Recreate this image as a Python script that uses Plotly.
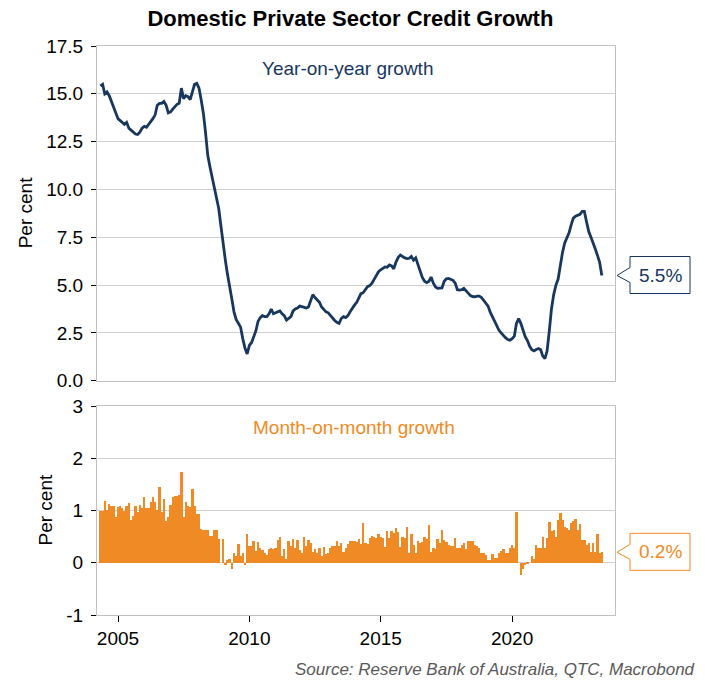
import plotly.graph_objects as go
import pandas as pd

# ---------------- data (monthly, from May 2004) ----------------
start_month = "2004-05-01"

yoy_growth = [
    15.42, 15.5, 15.0, 15.1, 14.9, 14.6, 14.3, 14.1,                      # 2004 May-Dec
    13.7, 13.6, 13.5, 13.4, 13.5, 13.2, 13.1, 13.0, 12.9, 12.87, 13.0, 13.2,  # 2005
    13.3, 13.25, 13.4, 13.5, 13.7, 13.9, 14.4, 14.5, 14.5, 14.6, 14.4, 14.0,  # 2006
    14.05, 14.2, 14.3, 14.45, 14.5, 15.3, 14.75, 14.9, 14.85, 14.7, 15.1, 15.5,  # 2007
    15.55, 15.3, 14.7, 14.0, 13.0, 11.8, 11.2, 10.6, 10.1, 9.6, 9.0, 8.1,   # 2008
    7.1, 6.3, 5.6, 5.0, 4.3, 3.6, 3.2, 3.0, 2.8, 2.2, 1.7, 1.4,             # 2009
    1.85, 2.0, 2.3, 2.6, 3.1, 3.3, 3.4, 3.35, 3.35, 3.5, 3.75, 3.5,         # 2010
    3.55, 3.6, 3.65, 3.5, 3.4, 3.17, 3.25, 3.35, 3.65, 3.75, 3.8, 3.9,      # 2011
    3.87, 3.84, 3.8, 3.85, 4.2, 4.5, 4.35, 4.2, 4.1, 3.85, 3.7, 3.6,        # 2012
    3.55, 3.4, 3.3, 3.15, 3.05, 3.0, 3.25, 3.35, 3.3, 3.4, 3.6, 3.8,        # 2013
    3.95, 4.1, 4.3, 4.55, 4.6, 4.75, 4.92, 4.97, 5.1, 5.3, 5.55, 5.7,       # 2014
    5.8, 5.9, 5.95, 5.93, 6.05, 6.0, 5.85, 6.2, 6.45, 6.57, 6.47, 6.42,     # 2015
    6.38, 6.4, 6.5, 6.3, 6.42, 6.05, 5.7, 5.4, 5.2, 5.13, 5.2, 5.42,        # 2016
    5.1, 4.9, 4.83, 4.83, 4.85, 5.2, 5.33, 5.35, 5.3, 5.25, 5.1, 4.76,      # 2017
    4.74, 4.76, 4.83, 4.7, 4.6, 4.45, 4.4, 4.39, 4.42, 4.42, 4.35, 4.2,     # 2018
    4.05, 3.9, 3.6, 3.35, 3.15, 2.85, 2.65, 2.5, 2.35, 2.25, 2.15, 2.12,    # 2019
    2.2, 2.33, 3.0, 3.25, 3.0, 2.6, 2.3, 2.1, 1.8, 1.62, 1.56, 1.63,        # 2020
    1.68, 1.62, 1.3, 1.15, 1.55, 2.6, 3.75, 4.5, 5.0, 5.3, 6.15, 6.7,       # 2021
    7.2, 7.5, 7.72, 8.15, 8.5, 8.6, 8.66, 8.7, 8.85, 8.85, 8.3, 7.8,        # 2022
    7.5, 7.22, 6.9, 6.55, 6.2, 5.5,                                         # 2023 Jan-Jun
]

mom_growth = [
    1.0, 1.0, 1.19, 1.01, 1.13, 1.08, 1.08, 0.88, 1.06, 1.08,
    1.04, 1.0, 1.08, 1.14, 0.81, 0.9, 1.09, 0.98, 1.11, 1.04,
    1.25, 1.04, 1.04, 1.17, 1.25, 1.17, 1.01, 1.45, 0.97, 1.22,
    0.79, 0.87, 1.11, 1.26, 1.28, 1.28, 1.29, 1.73, 0.87, 1.16,
    1.09, 1.06, 1.42, 1.08, 0.94, 0.94, 0.64, 0.63, 0.62, 0.62,
    0.51, 0.51, 0.62, 0.63, 0.45, 0.0, 0.45, -0.05, 0.06, 0.08,
    -0.11, 0.18, 0.12, 0.36, 0.12, 0.18, -0.04, 0.55, 0.32, 0.32,
    0.42, 0.23, 0.4, 0.28, 0.24, 0.19, 0.15, 0.26, 0.29, 0.26,
    0.29, 0.44, 0.49, 0.12, 0.26, 0.08, 0.42, 0.32, 0.46, 0.29,
    0.44, 0.24, 0.19, 0.49, 0.32, 0.44, 0.38, 0.21, 0.26, 0.19,
    0.29, 0.12, 0.31, 0.17, 0.19, 0.28, 0.32, 0.32, 0.42, 0.32,
    0.37, 0.21, 0.29,
    0.36, 0.42, 0.42, 0.42, 0.4, 0.46, 0.36, 0.76, 0.38, 0.36,
    0.47, 0.52, 0.49, 0.47, 0.55, 0.49, 0.48, 0.31, 0.6, 0.48,
    0.61, 0.56, 0.66, 0.58, 0.31, 0.49, 0.47, 0.68, 0.18, 0.55,
    0.34, 0.18, 0.42, 0.37, 0.4, 0.49, 0.45, 0.72, 0.21, 0.29,
    0.26, 0.45, 0.38, 0.62, 0.44, 0.4, 0.34, 0.32, 0.32, 0.47,
    0.28, 0.29, 0.34, 0.38, 0.26, 0.41, 0.41, 0.41, 0.34, 0.32,
    0.29, 0.19, 0.19, 0.15, 0.05, 0.06, 0.17, 0.1, 0.1, 0.19,
    0.23, 0.26, 0.18, 0.18, 0.28, 0.34, 0.29, 0.97, 0.0, -0.24,
    -0.11, -0.04, -0.03, 0.0, 0.13, 0.08, 0.34, 0.28, 0.28, 0.49,
    0.29, 0.47, 0.78, 0.6, 0.62, 0.5, 0.81, 0.96, 0.82, 0.68,
    0.66, 0.63, 0.76, 0.79, 0.83, 0.62, 0.74, 0.44, 0.44, 0.34,
    0.38, 0.21, 0.38, 0.21, 0.55, 0.18, 0.2,
]

x_tick_years = ["2005", "2010", "2015", "2020"]
top_ticks = [0, 2.5, 5, 7.5, 10, 12.5, 15, 17.5]
bottom_ticks = [-1, 0, 1, 2, 3]

yoy_dates = pd.date_range(start_month, periods=len(yoy_growth), freq="MS")
mom_dates = pd.date_range(start_month, periods=len(mom_growth), freq="MS")

# ---------------- styling / layout geometry ----------------
NAVY = "#17375E"
ORANGE = "#F08A24"
GRID = "#D0D0D0"
BORDER = "#C0C0C0"
FONT = "Liberation Sans, Arial, sans-serif"

W, H = 705, 682
L, R, T, B = 97, 90, 46, 67
PW, PH = W - L - R, H - T - B


def pxx(x):
    return (x - L) / PW


def pxy(y):
    return (H - B - y) / PH


top_bottom_px = 380.7
bot_top_px = 406
top_dom = [pxy(top_bottom_px), 1.0]
bot_dom = [0.0, pxy(bot_top_px)]

top_range = [0, 17.5]
bot_range = [-1, 3]

x_range = ["2004-03-15", "2023-12-01"]

fig = go.Figure()
fig.add_trace(go.Scatter(
    x=yoy_dates, y=yoy_growth, mode="lines",
    line=dict(color=NAVY, width=2.8),
    xaxis="x", yaxis="y", showlegend=False, hoverinfo="skip",
))
fig.add_trace(go.Bar(
    x=mom_dates, y=mom_growth,
    marker=dict(color=ORANGE, line=dict(width=0)),
    width=33 * 86400000,
    xaxis="x2", yaxis="y2", showlegend=False, hoverinfo="skip",
))

axis_common = dict(showline=True, mirror=True, linecolor=BORDER, linewidth=1)

fig.update_layout(
    width=W, height=H,
    margin=dict(l=L, r=R, t=T, b=B, pad=0),
    paper_bgcolor="white", plot_bgcolor="white",
    font=dict(family=FONT, size=19, color="#000000"),
    bargap=0,
    title=dict(
        text="<b>Domestic Private Sector Credit Growth</b>",
        x=0.497, xref="container", xanchor="center",
        y=1 - 18 / H, yref="container", yanchor="middle",
        font=dict(size=22, color="#000000", family=FONT),
    ),
    xaxis=dict(
        domain=[0, 1], anchor="y", type="date", range=x_range,
        showticklabels=False, ticks="", showgrid=False, zeroline=False,
        **axis_common,
    ),
    xaxis2=dict(
        domain=[0, 1], anchor="y2", type="date", range=x_range, matches="x",
        tickvals=[f"{y}-01-01" for y in x_tick_years], ticktext=x_tick_years,
        ticks="outside", ticklen=6, tickcolor="#000000", tickwidth=1,
        showgrid=False, zeroline=False, tickfont=dict(size=19),
        **axis_common,
    ),
    yaxis=dict(
        domain=top_dom, anchor="x", range=top_range,
        tickvals=top_ticks, ticktext=[f"{v:.1f}" for v in top_ticks],
        ticks="outside", ticklen=5, tickcolor="#000000", tickwidth=1,
        ticklabelstandoff=4,
        showgrid=True, gridcolor=GRID, gridwidth=1, zeroline=False,
        tickfont=dict(size=19),
        **axis_common,
    ),
    yaxis2=dict(
        domain=bot_dom, anchor="x2", range=bot_range,
        tickvals=bottom_ticks, ticktext=[str(v) for v in bottom_ticks],
        ticks="outside", ticklen=5, tickcolor="#000000", tickwidth=1,
        ticklabelstandoff=4,
        showgrid=True, gridcolor=GRID, gridwidth=1, zeroline=False,
        tickfont=dict(size=19),
        **axis_common,
    ),
)

# axis titles
fig.add_annotation(text="Per cent", textangle=-90, xref="paper", yref="y domain",
                   x=pxx(25), y=0.5, xanchor="center", yanchor="middle",
                   showarrow=False, font=dict(size=19, color="#000000"))
fig.add_annotation(text="Per cent", textangle=-90, xref="paper", yref="y2 domain",
                   x=pxx(45), y=0.5, xanchor="center", yanchor="middle",
                   showarrow=False, font=dict(size=19, color="#000000"))

# series labels
fig.add_annotation(text="Year-on-year growth", xref="paper", yref="y",
                   x=pxx(347), y=16.3, xanchor="center", yanchor="middle",
                   showarrow=False, font=dict(size=19, color=NAVY))
fig.add_annotation(text="Month-on-month growth", xref="paper", yref="y2",
                   x=pxx(354), y=2.58, xanchor="center", yanchor="middle",
                   showarrow=False, font=dict(size=19, color=ORANGE))

# source
fig.add_annotation(text="<i>Source: Reserve Bank of Australia, QTC, Macrobond</i>",
                   xref="paper", yref="paper", x=pxx(697), y=pxy(669),
                   xanchor="right", yanchor="middle", showarrow=False,
                   font=dict(size=17, color="#595959"))


# callouts for last values
def value_to_px(val, rng, dom_top_px, dom_bot_px):
    return dom_bot_px - (val - rng[0]) / (rng[1] - rng[0]) * (dom_bot_px - dom_top_px)


def callout(val, rng, dom_top_px, dom_bot_px, color):
    yp = value_to_px(val, rng, dom_top_px, dom_bot_px)
    x0, x1, xp = 630, 690, 617
    top, bot = yp - 19, yp + 18
    n_up, n_dn = yp - 8, yp + 7
    pts = [(x0, top), (x1, top), (x1, bot), (x0, bot), (x0, n_dn), (xp, yp), (x0, n_up)]
    path = "M " + " L ".join(f"{pxx(a):.5f},{pxy(b):.5f}" for a, b in pts) + " Z"
    fig.add_shape(type="path", path=path, xref="paper", yref="paper",
                  line=dict(color=color, width=1), fillcolor="white", layer="above")
    fig.add_annotation(text=f"{val:.1f}%", xref="paper", yref="paper",
                       x=pxx(660), y=pxy(yp - 0.5), xanchor="center", yanchor="middle",
                       showarrow=False, font=dict(size=19, color=color))


callout(yoy_growth[-1], top_range, T, top_bottom_px, NAVY)
callout(mom_growth[-1], bot_range, bot_top_px, H - B, ORANGE)

fig.write_html("out.html")
